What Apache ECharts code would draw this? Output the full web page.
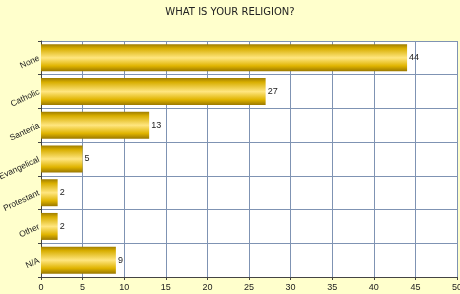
<!DOCTYPE html>
<html><head><meta charset="utf-8">
<script src="https://cdn.jsdelivr.net/npm/echarts@6/dist/echarts.min.js"></script>
<style>html,body{margin:0;padding:0;background:#ffffcc;}#c{width:460px;height:294px;}</style>
</head><body><div id="c"></div>
<script>
const categories = ['None','Catholic','Santeria','Evangelical','Protestant','Other','N/A'];
const values = [44, 27, 13, 5, 2, 2, 9];
const xTicks = {min: 0, max: 50, interval: 5};
const font = '"Comic Sans MS", "Liberation Sans", sans-serif';
const chart = echarts.init(document.getElementById('c'));
chart.setOption({
  backgroundColor: '#ffffcc',
  animation: false,
  title: {text: 'WHAT IS YOUR RELIGION?', left: 'center', top: 2,
    textStyle: {fontFamily: '"DejaVu Sans", sans-serif', fontSize: 10, fontWeight: 'normal', color: '#222'}},
  grid: {left: 41, right: 3, top: 41, bottom: 17, show: true, backgroundColor: '#ffffff', borderWidth: 0,
    containLabel: false, outerBoundsMode: 'none'},
  xAxis: {type: 'value', min: xTicks.min, max: xTicks.max, interval: xTicks.interval,
    axisLine: {show: true, lineStyle: {color: '#444', width: 1}},
    axisTick: {show: true, length: 3, lineStyle: {color: '#444'}},
    axisLabel: {fontFamily: font, fontSize: 9, color: '#222', margin: 6},
    splitLine: {show: true, lineStyle: {color: '#7f93b3', width: 1}}},
  yAxis: {type: 'category', data: categories, inverse: true,
    axisLine: {show: true, lineStyle: {color: '#444', width: 1}},
    axisTick: {show: true, length: 3, lineStyle: {color: '#444'}},
    axisLabel: {fontFamily: font, fontSize: 8.5, color: '#222', rotate: 25, margin: 2},
    splitLine: {show: true, lineStyle: {color: '#7f93b3', width: 1}}},
  series: [{type: 'bar', data: values, barCategoryGap: '20%',
    itemStyle: {color: new echarts.graphic.LinearGradient(0,0,0,1,[
      {offset:0, color:'#a07e00'},
      {offset:0.15, color:'#d8ae00'},
      {offset:0.5, color:'#ffe680'},
      {offset:0.8, color:'#e0b400'},
      {offset:1, color:'#9a7800'}])},
    label: {show: true, position: 'right', distance: 2, fontFamily: font, fontSize: 9, color: '#222'}}]
});
</script></body></html>
